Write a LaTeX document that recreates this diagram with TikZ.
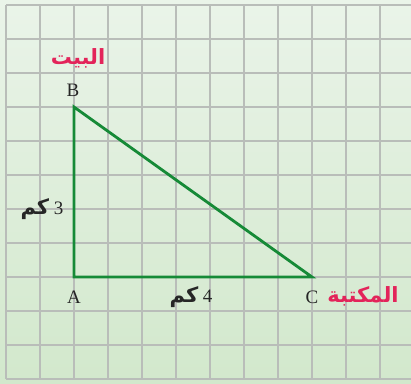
\documentclass[tikz,border=0pt]{standalone}
\usepackage{fontspec}
\setmainfont{Liberation Serif}
\newfontfamily\arabicfont[Script=Arabic]{DejaVu Sans}
\TeXXeTstate=1
\definecolor{bgtop}{HTML}{EAF4E9}
\definecolor{bgbot}{HTML}{D2E8CC}
\definecolor{gridc}{HTML}{B9BDB9}
\definecolor{tri}{HTML}{168A37}
\definecolor{pinkc}{HTML}{E3245A}
\newcommand\arb{\arabicfont\bfseries\fontsize{21}{21}\selectfont}
\begin{document}
\begin{tikzpicture}[x=1pt,y=-1pt,
  gridline/.style={draw=gridc,line width=1.3pt},
  edge/.style={draw=tri,line width=2.8pt,line join=miter},
  vlabel/.style={font=\fontsize{19}{19}\selectfont,text=black!85,inner sep=0pt},
  place/.style={font=\arb,text=pinkc,inner sep=0pt},
  dist/.style={font=\fontsize{19}{19}\selectfont,text=black!85,inner sep=0pt}]
\shade[top color=bgtop,bottom color=bgbot] (0,0) rectangle (411,383);
\useasboundingbox (0,0) rectangle (411,383);
\foreach \i in {0,...,11} {
  \draw[gridline] (6+34*\i,5) -- (6+34*\i,379);
  \draw[gridline] (6,5+34*\i) -- (411,5+34*\i);
}
\coordinate (A) at (74,277);
\coordinate (B) at (74,107);
\coordinate (C) at (312,277);
\draw[edge] (A) -- (B) -- (C) -- cycle;
\node[vlabel] (lA) at (74,297) {A};
\node[vlabel] (lB) at (73,90) {B};
\node[vlabel] (lC) at (312,297) {C};
\node[place] (home) at (78,58) {\beginR البيت\endR};
\node[place] (lib) at (363,296) {\beginR المكتبة\endR};
\node[dist] (d3) at (42,209) {\beginR 3 {\arb كم}\endR};
\node[dist] (d4) at (191,297) {\beginR 4 {\arb كم}\endR};
\end{tikzpicture}
\end{document}
